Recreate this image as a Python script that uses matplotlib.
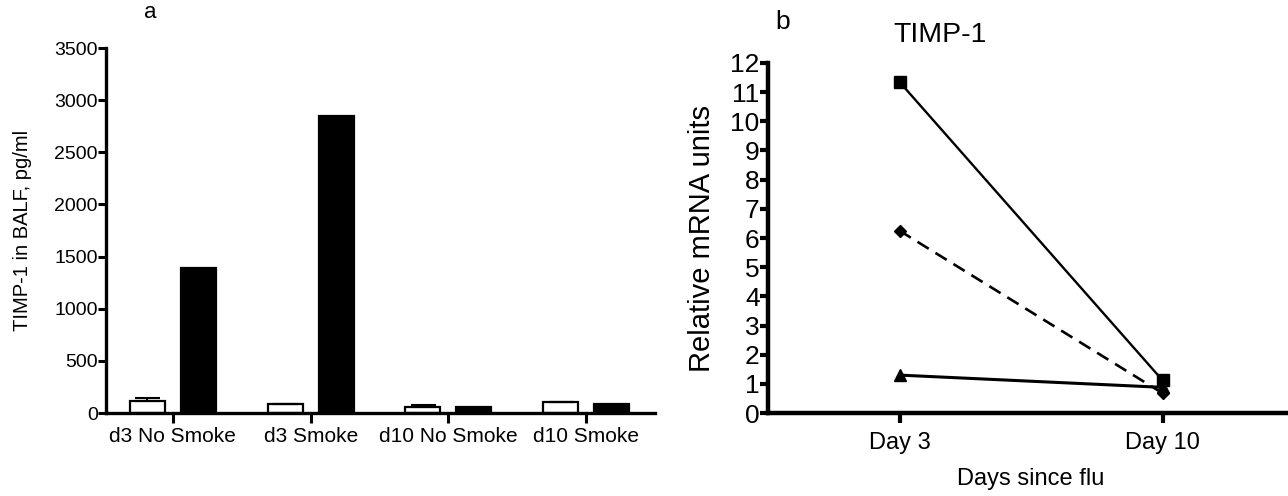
import numpy as np
import matplotlib
matplotlib.use("Agg")
import matplotlib.pyplot as plt

plt.rcParams['font.family'] = ['Liberation Sans', 'DejaVu Sans']

# panel a data
groups = ['d3 No Smoke', 'd3 Smoke', 'd10 No Smoke', 'd10 Smoke']
white_vals = [118, 86, 60, 102]
white_err = [25, 5, 15, 7]
black_vals = [1390, 2845, 55, 86]

# panel b data
days = ['Day 3', 'Day 10']
square_vals = [11.35, 1.12]
diamond_vals = [6.25, 0.68]
triangle_vals = [1.3, 0.88]

fig = plt.figure(figsize=(12.88, 4.96), dpi=100)

# ---- panel a ----
ax1 = fig.add_axes([0.0823, 0.1673, 0.4262, 0.7359])
x = np.arange(len(groups))
off = 0.185
w = 0.254
ax1.bar(x - off, white_vals, width=w, color='white', edgecolor='black', linewidth=1.6,
        yerr=[[0] * 4, white_err], error_kw=dict(ecolor='black', elinewidth=1.5, capsize=9, capthick=1.5))
ax1.bar(x + off, black_vals, width=w, color='black', edgecolor='black', linewidth=1.6)
ax1.set_xlim(-0.486, 3.5)
ax1.set_ylim(0, 3500)
ax1.set_yticks(np.arange(0, 3501, 500))
ax1.set_xticks(x)
ax1.set_xticklabels(groups, fontsize=15)
ax1.tick_params(axis='y', labelsize=14, width=2.2, length=6, pad=0)
ax1.tick_params(axis='x', width=2.2, length=7, pad=3)
for s in ['top', 'right']:
    ax1.spines[s].set_visible(False)
for s in ['left', 'bottom']:
    ax1.spines[s].set_linewidth(2.4)
ax1.set_ylabel('TIMP-1 in BALF, pg/ml', fontsize=14.5, labelpad=16)
fig.text(0.1165, 0.975, 'a', fontsize=16, ha='center', va='center')

# ---- panel b ----
ax2 = fig.add_axes([0.5963, 0.1673, 0.4084, 0.7057])
xd = np.arange(len(days))
ax2.plot(xd, square_vals, color='black', lw=1.7, marker='s', markersize=8.5, zorder=3)
ax2.plot(xd, diamond_vals, color='black', lw=1.9, ls=(0, (5, 3)), marker='D', markersize=6.5, zorder=3)
ax2.plot(xd, triangle_vals, color='black', lw=2.2, marker='^', markersize=9, zorder=3)
ax2.set_xlim(-0.5, 1.5)
ax2.set_ylim(0, 12)
ax2.set_yticks(np.arange(0, 13, 1))
ax2.set_xticks(xd)
ax2.set_xticklabels(days, fontsize=17)
ax2.tick_params(axis='y', labelsize=19, width=3, length=6, pad=0)
ax2.tick_params(axis='x', width=3, length=7, pad=7)
for s in ['top', 'right']:
    ax2.spines[s].set_visible(False)
for s in ['left', 'bottom']:
    ax2.spines[s].set_linewidth(3.2)
ax2.set_ylabel('Relative mRNA units', fontsize=21, labelpad=10)
ax2.set_xlabel('Days since flu', fontsize=17, labelpad=10)
fig.text(0.6075, 0.955, 'b', fontsize=19, ha='center', va='center')
fig.text(0.73, 0.93, 'TIMP-1', fontsize=20.5, ha='center', va='center')

fig.savefig('out.png', dpi=100)
